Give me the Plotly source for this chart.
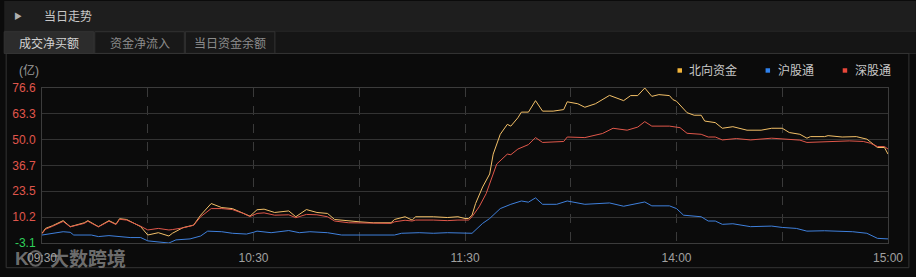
import plotly.graph_objects as go

# ---------------- data ----------------
north_t = ["09:30","09:31","09:33","09:36","09:38","09:42","09:43","09:46","09:49","09:51","09:52","09:54","09:58",
           "10:00","10:03","10:06","10:07","10:10","10:13","10:15","10:18","10:21","10:24","10:27","10:29","10:31",
           "10:33","10:36","10:40","10:42","10:45","10:48","10:51","10:53","10:57","11:00","11:04","11:09","11:10",
           "11:13","11:15","11:16","11:21","11:25","11:28","11:30","13:01","13:02","13:03","13:05","13:07","13:08",
           "13:10","13:12","13:13","13:15","13:16","13:18","13:20","13:22","13:25","13:28","13:29","13:32","13:34",
           "13:37","13:41","13:45","13:47","13:49","13:51","13:53","13:55","13:58","13:59","14:00","14:03","14:05",
           "14:07","14:08","14:11","14:13","14:16","14:20","14:24","14:27","14:30","14:32","14:35","14:37","14:38",
           "14:42","14:43","14:47","14:51","14:54","14:57","14:59","15:00"]
north_v = [1.9,4.4,5.8,8.4,5.3,7.3,8.4,5.3,8.4,6.6,9.4,9.0,5.3,
           1.0,2.2,0.5,1.9,4.8,6.1,11.2,17.2,15.1,14.6,12.4,10.7,14.0,
           14.3,12.6,13.4,10.4,14.1,12.6,12.1,9.0,8.2,7.8,7.3,7.3,9.0,
           10.4,8.7,10.4,10.4,10.0,10.4,9.5,9.5,11.2,17.2,25.7,32.4,42.6,
           52.8,57.9,57.0,61.3,64.2,64.2,70.1,64.7,64.7,65.5,69.5,68.5,66.7,
           68.5,72.8,70.1,72.7,72.7,76.6,72.3,73.2,72.7,70.6,69.8,63.9,62.6,
           62.6,59.6,58.8,55.9,56.7,54.9,54.9,55.9,55.9,53.7,52.8,50.8,51.6,
           51.6,52.1,51.4,51.6,50.3,46.0,46.0,42.6]

sh_t = ["09:30","09:32","09:36","09:38","09:39","09:44","09:46","09:49","09:52","09:55","09:58","10:00","10:06",
        "10:08","10:12","10:15","10:17","10:21","10:24","10:28","10:30","10:31","10:35","10:40","10:43","10:46",
        "10:51","10:53","10:55","11:10","11:12","11:17","11:21","11:25","11:29","11:30","13:02","13:05","13:07",
        "13:10","13:13","13:16","13:18","13:20","13:22","13:26","13:29","13:34","13:41","13:45","13:51","13:53",
        "13:58","14:00","14:02","14:07","14:09","14:11","14:13","14:16","14:21","14:27","14:30","14:34","14:37",
        "14:42","14:47","14:50","14:54","14:57","15:00"]
sh_v = [1.0,1.5,2.7,2.4,1.0,1.0,0.2,0.7,0.2,-0.3,-0.3,-2.0,-3.1,
        -1.5,-1.0,0.5,3.0,2.7,1.9,1.5,2.4,3.0,2.2,3.3,2.2,2.7,
        2.2,1.5,1.0,1.0,1.9,2.2,1.9,2.2,1.9,2.2,1.9,7.0,9.5,
        14.6,16.8,18.5,17.9,20.1,16.8,16.8,18.5,16.8,17.5,15.8,18.0,16.0,
        16.0,14.6,11.2,10.4,8.2,8.2,6.5,6.8,5.3,5.6,4.9,4.4,3.0,
        3.2,3.0,2.7,1.9,-0.7,-1.0]

sz_t = ["09:30","09:31","09:33","09:36","09:38","09:42","09:43","09:46","09:49","09:51","09:52","09:54","09:58",
        "10:00","10:03","10:06","10:07","10:10","10:13","10:15","10:18","10:21","10:24","10:27","10:29","10:31",
        "10:33","10:36","10:40","10:42","10:45","10:48","10:51","10:53","10:57","11:00","11:04","11:09","11:10",
        "11:13","11:15","11:16","11:21","11:25","11:28","11:30","13:01","13:02","13:04","13:06","13:08","13:09",
        "13:12","13:13","13:15","13:17","13:18","13:20","13:22","13:28","13:29","13:34","13:39","13:42","13:46",
        "13:49","13:51","13:53","13:58","14:01","14:03","14:07","14:09","14:11","14:13","14:17","14:21","14:27",
        "14:30","14:35","14:37","14:41","14:49","14:53","14:55","14:57","14:59","15:00"]
sz_v = [1.7,4.0,5.5,8.0,5.2,7.0,8.1,5.2,8.1,6.4,9.1,8.7,5.5,
        3.6,4.4,3.6,3.8,4.7,6.0,10.4,14.6,14.6,14.1,12.2,10.5,12.1,
        12.4,11.2,11.4,9.9,11.6,11.4,10.4,8.2,7.3,7.3,7.0,7.0,7.8,
        8.6,8.2,8.7,8.7,8.4,8.7,8.7,8.7,10.4,15.5,22.3,32.4,37.5,
        42.6,42.3,45.2,46.9,47.5,51.1,48.6,49.1,51.4,51.1,53.2,55.9,54.9,
        56.5,59.3,57.0,57.0,56.2,53.3,52.8,51.4,51.4,49.9,50.6,49.9,50.8,
        50.3,49.8,48.6,48.9,49.4,49.1,48.2,46.5,46.5,45.2]

series_names = ["北向资金", "沪股通", "深股通"]
y_ticks = [-3.1, 10.2, 23.5, 36.7, 50.0, 63.3, 76.6]
x_tick_times = ["09:30", "10:00", "10:30", "11:00", "11:30", "13:30", "14:00", "14:30", "15:00"]
x_tick_labels = ["09:30", "", "10:30", "", "11:30", "", "14:00", "", "15:00"]
tabs = ["成交净买额", "资金净流入", "当日资金余额"]

# ---------------- helpers ----------------
def tmin(s):
    h, m = map(int, s.split(":"))
    t = h * 60 + m
    return t - 570 if t <= 690 else t - 780 + 120

W, H = 916, 277
L, R, T, B = 38, 888, 88, 245

def px(x):
    return (x - L) / (R - L)

def py(y):
    return (B - y) / (B - T)

colors = {"北向资金": "#f3c068", "沪股通": "#3f80dc", "深股通": "#e0574a"}
legend_sq = {"北向资金": "#f2b43a", "沪股通": "#2f82ee", "深股通": "#e8473a"}
FONT = "Liberation Sans, Noto Sans CJK SC, sans-serif"

fig = go.Figure()
for name, tt, vv in [("北向资金", north_t, north_v), ("沪股通", sh_t, sh_v), ("深股通", sz_t, sz_v)]:
    fig.add_trace(go.Scatter(x=[tmin(t) for t in tt], y=vv, mode="lines", name=name,
                             line=dict(color=colors[name], width=1), showlegend=False,
                             hoverinfo="skip"))

ytext = []
for v in y_ticks:
    c = "#2fd05a" if v < 0 else "#e0564c"
    ytext.append(f"<span style='color:{c}'>{v:.1f}</span>")

shapes = []
annos = []
# header bar
shapes.append(dict(type="rect", xref="paper", yref="paper", x0=px(0), x1=px(W), y0=py(30), y1=py(0),
                   fillcolor="#1e1e1e", line=dict(width=0), layer="below"))
shapes.append(dict(type="line", xref="paper", yref="paper", x0=px(0), x1=px(W), y0=py(30.5), y1=py(30.5),
                   line=dict(color="#333333", width=1), layer="below"))
# tabs row background
shapes.append(dict(type="rect", xref="paper", yref="paper", x0=px(0), x1=px(W), y0=py(53), y1=py(31),
                   fillcolor="#151515", line=dict(width=0), layer="below"))
tab_x = [(0, 90), (91, 181), (182, 272)]
for i, (a, b) in enumerate(tab_x):
    shapes.append(dict(type="rect", xref="paper", yref="paper", x0=px(a), x1=px(b), y0=py(53), y1=py(31),
                       fillcolor="#2c2c2c" if i == 0 else "#181818",
                       line=dict(color="#333333", width=1), layer="below"))
    annos.append(dict(text=tabs[i], xref="paper", yref="paper", x=px((a + b) / 2), y=py(42.5),
                      showarrow=False, xanchor="center", yanchor="middle",
                      font=dict(size=12, color="#d2d2d2" if i == 0 else "#8c8c8c", family=FONT)))
shapes.append(dict(type="line", xref="paper", yref="paper", x0=px(272), x1=px(W), y0=py(53), y1=py(53),
                   line=dict(color="#2a2a2a", width=1), layer="below"))
# panel frame
shapes.append(dict(type="rect", xref="paper", yref="paper", x0=px(2), x1=px(909), y0=py(270), y1=py(53),
                   fillcolor="rgba(0,0,0,0)", line=dict(color="#343434", width=1), layer="below"))
# header texts
annos.append(dict(text="▶", xref="paper", yref="paper", x=px(14), y=py(16), showarrow=False,
                  xanchor="center", yanchor="middle", font=dict(size=8, color="#b0b0b0", family=FONT)))
annos.append(dict(text="当日走势", xref="paper", yref="paper", x=px(38), y=py(16), showarrow=False,
                  xanchor="left", yanchor="middle", font=dict(size=12, color="#c8c8c8", family=FONT)))
# unit
annos.append(dict(text="(亿)", xref="paper", yref="paper", x=px(37), y=py(70), showarrow=False,
                  xanchor="right", yanchor="middle", font=dict(size=12, color="#9a9a9a", family=FONT)))
# legend
leg_pos = {"北向资金": (676.5, 686), "沪股通": (765, 775), "深股通": (842.5, 852.5)}
for name in series_names:
    sx, tx = leg_pos[name]
    shapes.append(dict(type="rect", xref="paper", yref="paper", x0=px(sx), x1=px(sx + 4.5),
                       y0=py(72.5), y1=py(68), fillcolor=legend_sq[name], line=dict(width=0)))
    annos.append(dict(text=name, xref="paper", yref="paper", x=px(tx), y=py(70.5), showarrow=False,
                      xanchor="left", yanchor="middle", font=dict(size=12, color="#c8c8c8", family=FONT)))
# watermark
annos.append(dict(text="<b>大数跨境</b>", xref="paper", yref="paper", x=px(44), y=py(261), showarrow=False,
                  xanchor="left", yanchor="middle", font=dict(size=19, color="rgba(175,175,175,0.62)", family=FONT)))
annos.append(dict(text="<b>K</b>", xref="paper", yref="paper", x=px(18), y=py(261), showarrow=False,
                  xanchor="center", yanchor="middle", font=dict(size=19, color="rgba(175,175,175,0.62)", family=FONT)))
shapes.append(dict(type="circle", xref="paper", yref="paper", x0=px(25), x1=px(38), y0=py(268), y1=py(253),
                   line=dict(color="rgba(175,175,175,0.55)", width=2)))

fig.update_layout(
    width=W, height=H,
    margin=dict(l=L, r=W - R, t=T, b=H - B, pad=0),
    paper_bgcolor="#0b0b0b", plot_bgcolor="#0b0b0b",
    font=dict(family=FONT, size=12, color="#9a9a9a"),
    xaxis=dict(range=[0, 240], tickmode="array", tickvals=[tmin(t) for t in x_tick_times],
               ticktext=x_tick_labels, showgrid=True, gridcolor="#3a3a3a", griddash="dash", gridwidth=1,
               zeroline=False, showline=True, linecolor="#3c3c3c", mirror=True, ticks="",
               ticklabelstandoff=4,
               tickfont=dict(size=12, color="#a0a0a0"), fixedrange=True),
    yaxis=dict(range=[-3.1, 76.6], tickmode="array", tickvals=y_ticks, ticktext=ytext,
               showgrid=True, gridcolor="#333333", gridwidth=1, zeroline=False,
               showline=True, linecolor="#3c3c3c", mirror=True, ticks="", ticklabelstandoff=3,
               tickfont=dict(size=12), fixedrange=True),
    shapes=shapes, annotations=annos, showlegend=False,
)

fig.write_html("out.html")
